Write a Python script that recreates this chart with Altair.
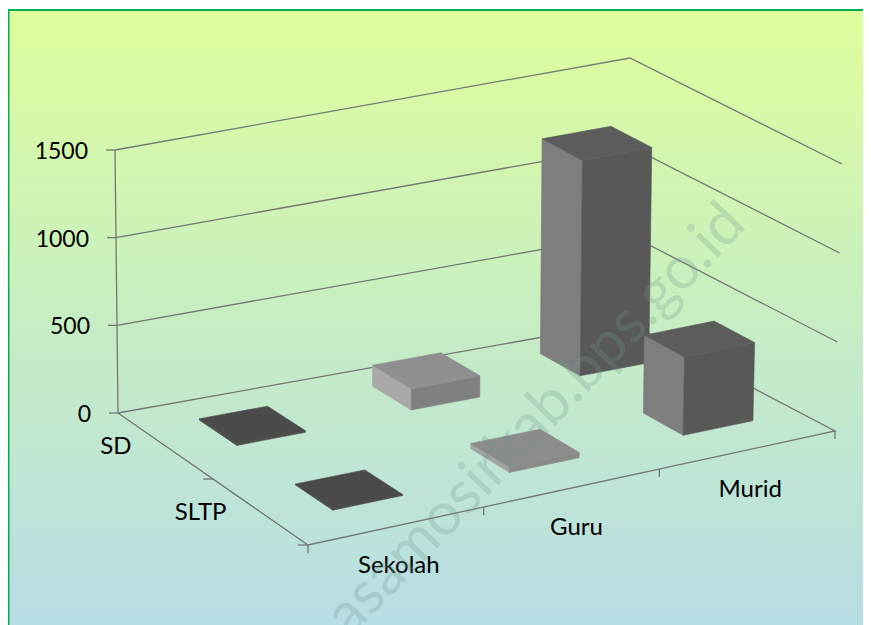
import altair as alt
import pandas as pd

# ---- chart values -------------------------------------------------------
categories = ["Sekolah", "Guru", "Murid"]
series = ["SD", "SLTP"]
sd_values = [8, 120, 1220]
sltp_values = [5, 30, 440]
value_ticks = [0, 500, 1000, 1500]

# ---- styles -------------------------------------------------------------
FONT = "Lato"
AXIS_GREY = "#767676"
sd_colors = [("#4b4b4b", "#4b4b4b", "#4b4b4b"), ("#a9a9a9", "#808080", "#8f8f8f"), ("#7e7e7e", "#585858", "#5c5c5c")]
sltp_colors = [("#4a4a4a", "#4a4a4a", "#4a4a4a"), ("#a2a2a2", "#8a8a8a", "#8c8c8c"), ("#7e7e7e", "#585858", "#5c5c5c")]

# ---- oblique projection of the floor/value space on to the picture -------
A, B, C, D = (118, 413), (627, 322), (308, 545), (835, 431)
H = {"A": 263, "B": 264, "C": 266, "D": 267}
DX = {"A": -3, "B": 3, "C": 0, "D": 7}
MAXV = 1500.0


def bil(a, b, c, d, s, t):
    return (1 - s) * (1 - t) * a + s * (1 - t) * b + (1 - s) * t * c + s * t * d


def project(u, v, h=0.0):
    s, t = u / 3.0, v / 2.0
    x = bil(A[0], B[0], C[0], D[0], s, t)
    y = bil(A[1], B[1], C[1], D[1], s, t)
    k = bil(H["A"], H["B"], H["C"], H["D"], s, t)
    dx = bil(DX["A"], DX["B"], DX["C"], DX["D"], s, t)
    return x + dx * h / MAXV, y - k * h / MAXV


# ---- lines ---------------------------------------------------------------
lines = []
lid = 0


def add_line(pts):
    global lid
    for i, (x, y) in enumerate(pts):
        lines.append({"id": lid, "o": i, "x": x, "y": y})
    lid += 1


for tick in value_ticks:
    if tick > 0:
        add_line([project(0, 0, tick), project(3, 0, tick), project(3, 2, tick)])
    x, y = project(0, 0, tick)
    add_line([(x - 9, y), (x, y)])
add_line([project(0, 0, 0), project(0, 0, MAXV)])
add_line([project(0, 0), project(3, 0), project(3, 2), project(0, 2), project(0, 0)])
for j in (1, 2):
    x, y = project(0, j)
    add_line([(x - 10, y), (x, y)])
for i in range(4):
    x, y = project(i, 2)
    add_line([(x, y), (x, y + 8)])

# ---- bars ----------------------------------------------------------------
polys = []
pid = 0


def add_poly(pts, fill):
    global pid
    for i, (x, y) in enumerate(list(pts) + [pts[0]]):
        polys.append({"id": pid, "o": i, "x": x, "y": y, "fill": fill})
    pid += 1


HW, HD = 0.2, 0.195
for j, (vals, cols) in enumerate([(sd_values, sd_colors), (sltp_values, sltp_colors)]):
    for i, val in enumerate(vals):
        uc = i + 0.53 + ((0.03 if j == 0 else 0.015) if i > 0 else 0)
        vc = j + 0.46 - (0.025 if j == 0 else 0.008) * i
        u0, u1, v0, v1 = uc - HW, uc + HW, vc - HD, vc + HD
        left, front, top = cols[i]
        add_poly([project(u0, v0), project(u0, v1), project(u0, v1, val), project(u0, v0, val)], left)
        add_poly([project(u0, v1), project(u1, v1), project(u1, v1, val), project(u0, v1, val)], front)
        add_poly([project(u0, v0, val), project(u0, v1, val), project(u1, v1, val), project(u1, v0, val)], top)

# ---- labels --------------------------------------------------------------
labels = []
ticklabels = []
for tick in value_ticks:
    x, y = project(0, 0, tick)
    ticklabels.append({"t": str(tick), "x": x - 27, "y": y + 2})
for j, name in enumerate(series):
    x, y = project(0, j + 0.5)
    labels.append({"t": name, "x": x - 34, "y": y + 0.5, "a": "right"})
for i, name in enumerate(categories):
    x, y = project(i + 0.5, 2)
    labels.append({"t": name, "x": x + 3 + (2 if i == 1 else 0), "y": y + 40, "a": "center"})

# ---- chart ---------------------------------------------------------------
W, Hh = 855, 617
xs = alt.Scale(domain=[8, 863], range=[0, W], nice=False, zero=False)
ys = alt.Scale(domain=[8, 625], range=[0, Hh], nice=False, zero=False)
X = alt.X("x:Q", scale=xs, axis=None)
Y = alt.Y("y:Q", scale=ys, axis=None)

grad = alt.LinearGradient(
    gradient="linear", x1=0, x2=0, y1=0, y2=1,
    stops=[alt.GradientStop(color="#defe9b", offset=0),
           alt.GradientStop(color="#c6edc4", offset=0.5),
           alt.GradientStop(color="#b6dce8", offset=1)],
)
bg = alt.Chart(alt.Data(values=[{"a": 1}])).mark_rect(
    fill=grad, stroke="#00b050", strokeWidth=2
).encode(x=alt.value(0.5), x2=alt.value(900), y=alt.value(2), y2=alt.value(640))

line_layer = alt.Chart(pd.DataFrame(lines)).mark_line(
    color=AXIS_GREY, strokeWidth=1.3
).encode(x=X, y=Y, detail="id:N", order="o:Q")

poly_layer = alt.Chart(pd.DataFrame(polys)).mark_line(
    strokeWidth=0.6, fillOpacity=1
).encode(
    x=X, y=Y, detail="id:N", order="o:Q",
    fill=alt.Fill("fill:N", scale=None),
    stroke=alt.Stroke("fill:N", scale=None),
)


def text_group(rows, align, size):
    return alt.Chart(pd.DataFrame(rows)).mark_text(
        font=FONT, fontSize=size, color="#000000", baseline="middle", align=align
    ).encode(x=X, y=Y, text="t:N")


watermark = alt.Chart(pd.DataFrame([{"x": 536, "y": 420, "t": "asamosirkab.bps.go.id"}])).mark_text(
    font="Lato", fontSize=60, color="#6f9a90", opacity=0.26, angle=314, align="center", baseline="middle"
).encode(x=X, y=Y, text="t:N")

chart = alt.layer(
    bg, line_layer, poly_layer,
    text_group(ticklabels, "right", 23),
    text_group([l for l in labels if l["a"] == "right"], "right", 24),
    text_group([l for l in labels if l["a"] == "center"], "center", 24),
    watermark,
).properties(
    width=W, height=Hh, padding=0, autosize=alt.AutoSizeParams(type="none"), background="#ffffff"
).configure_view(stroke=None)

chart.save("out.html", embed_options={"renderer": "svg", "actions": False})
